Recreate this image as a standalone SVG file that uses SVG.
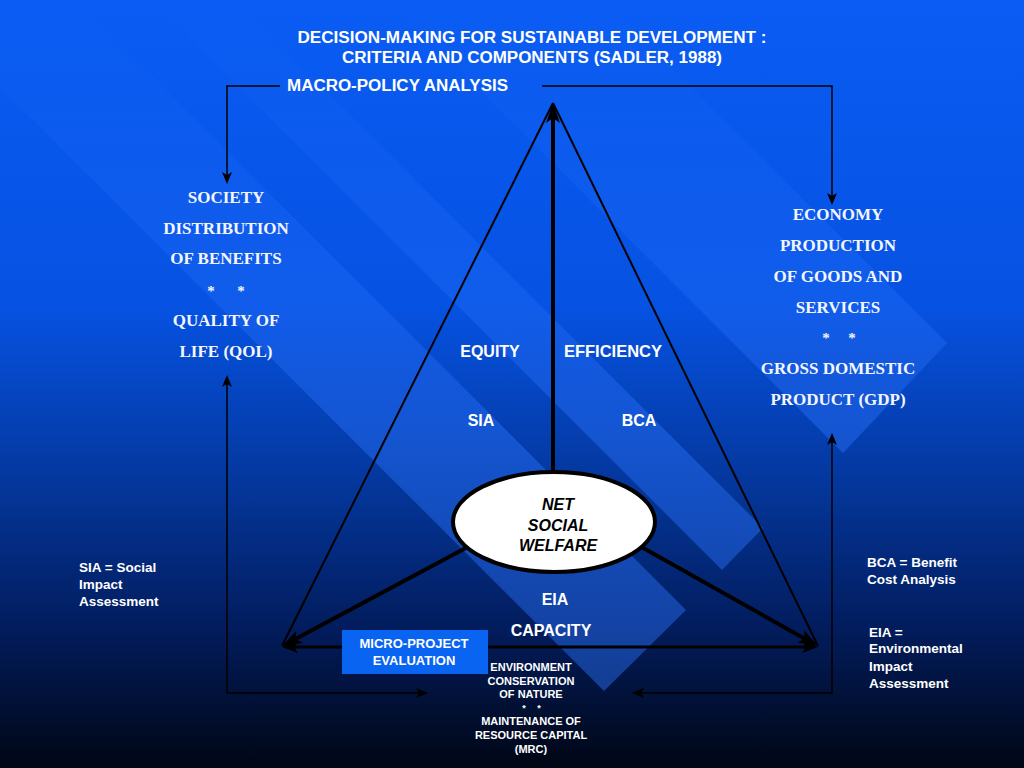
<svg xmlns="http://www.w3.org/2000/svg" width="1024" height="768" viewBox="0 0 1024 768">
<defs>
<linearGradient id="bg" x1="0" y1="0" x2="0" y2="1">
<stop offset="0" stop-color="#0a5cf4"/>
<stop offset="0.4" stop-color="#0652e2"/>
<stop offset="0.62" stop-color="#04389f"/>
<stop offset="0.82" stop-color="#021c5c"/>
<stop offset="1" stop-color="#000614"/>
</linearGradient>
<linearGradient id="bandFill" gradientUnits="userSpaceOnUse" x1="0" y1="0" x2="0" y2="768">
<stop offset="0" stop-color="#2a74ff" stop-opacity="0"/>
<stop offset="0.2" stop-color="#2a74ff" stop-opacity="0.15"/>
<stop offset="0.55" stop-color="#2a74ff" stop-opacity="0.42"/>
<stop offset="1" stop-color="#2a74ff" stop-opacity="0.45"/>
</linearGradient>
<marker id="arr" viewBox="0 0 12 10" refX="6" refY="5" markerWidth="12" markerHeight="10" markerUnits="userSpaceOnUse" orient="auto-start-reverse">
<path d="M0,0 L12,5 L0,10 L3,5 z" fill="#000"/>
</marker>
<marker id="arrBig" viewBox="0 0 20 14" refX="8" refY="7" markerWidth="20" markerHeight="14" markerUnits="userSpaceOnUse" orient="auto-start-reverse">
<path d="M0,0 L20,7 L0,14 L5,7 z" fill="#000"/>
</marker>
<marker id="arrMid" viewBox="0 0 16 12" refX="6" refY="6" markerWidth="16" markerHeight="12" markerUnits="userSpaceOnUse" orient="auto-start-reverse">
<path d="M0,0 L16,6 L0,12 L4,6 z" fill="#000"/>
</marker>
<style>
.band{fill:url(#bandFill)}
.sans{font-family:"Liberation Sans",Arial,sans-serif;font-weight:bold;fill:#fff}
.serif{font-family:"Liberation Serif","Times New Roman",serif;font-weight:bold;fill:#f4f6ff;font-size:17px;text-anchor:middle}
.ast{font-size:15px}
.t16{font-size:16px}
.mid{text-anchor:middle}
.leg{font-size:13.5px}
.nsw{font-family:"Liberation Sans",Arial,sans-serif;font-weight:bold;font-style:italic;font-size:16px;fill:#000;text-anchor:middle}
.thin{stroke:#000;stroke-width:1.5;fill:none}
.side{stroke:#000;stroke-width:2;fill:none}
.thick{stroke:#000;stroke-width:4;fill:none}
</style>
</defs>
<rect x="0" y="0" width="1024" height="768" fill="url(#bg)"/>
<g id="bands">
<polygon class="band" points="-200,-276 686,610 604,691 -200,-113"/>
<polygon class="band" points="420,-184 947,343 843,453 200,-190"/>
<polygon class="band" points="250,15 763,528 722,570 100,-52"/>
</g>
<g id="title" class="sans t16 mid">
<text x="532" y="43" textLength="469" lengthAdjust="spacingAndGlyphs">DECISION-MAKING FOR SUSTAINABLE DEVELOPMENT :</text>
<text x="532" y="63" textLength="380" lengthAdjust="spacingAndGlyphs">CRITERIA AND COMPONENTS (SADLER, 1988)</text>
</g>
<g id="connectors">
<path class="thin" d="M280,86 H227 V178" marker-end="url(#arr)"/>
<path class="thin" d="M542,86 H832 V199" marker-end="url(#arr)"/>
<path class="thin" d="M227,381 V693 H422" marker-start="url(#arr)" marker-end="url(#arr)"/>
<path class="thin" d="M832,439 V693 H638" marker-start="url(#arr)" marker-end="url(#arr)"/>
<line class="side" x1="553" y1="103" x2="282" y2="646"/>
<line class="side" x1="553" y1="103" x2="818" y2="646"/>
<line class="thick" x1="553" y1="490" x2="553" y2="115" marker-end="url(#arrBig)"/>
<line class="thick" x1="490" y1="535" x2="292.7" y2="640.5" marker-end="url(#arrBig)"/>
<line class="thick" x1="620" y1="535" x2="807.5" y2="640.2" marker-end="url(#arrBig)"/>
<line stroke="#000" stroke-width="3" x1="292" y1="647" x2="808" y2="647" marker-start="url(#arrMid)" marker-end="url(#arrMid)"/>
</g>
<g id="macro-policy">
<text class="sans t16" x="287" y="91" textLength="221" lengthAdjust="spacingAndGlyphs">MACRO-POLICY ANALYSIS</text>
</g>
<g id="society">
<text class="serif" x="226" y="203">SOCIETY</text>
<text class="serif" x="226" y="234">DISTRIBUTION</text>
<text class="serif" x="226" y="264">OF BENEFITS</text>
<text class="serif ast" x="211" y="296">*</text>
<text class="serif ast" x="241" y="296">*</text>
<text class="serif" x="226" y="326">QUALITY OF</text>
<text class="serif" x="226" y="357">LIFE (QOL)</text>
</g>
<g id="economy">
<text class="serif" x="838" y="220">ECONOMY</text>
<text class="serif" x="838" y="251">PRODUCTION</text>
<text class="serif" x="838" y="282">OF GOODS AND</text>
<text class="serif" x="838" y="313">SERVICES</text>
<text class="serif ast" x="826" y="343">*</text>
<text class="serif ast" x="852" y="343">*</text>
<text class="serif" x="838" y="374">GROSS DOMESTIC</text>
<text class="serif" x="838" y="405">PRODUCT (GDP)</text>
</g>
<g id="criteria" class="sans t16 mid">
<text x="490" y="357">EQUITY</text>
<text x="613" y="357" style="font-size:16.5px">EFFICIENCY</text>
<text x="481" y="426">SIA</text>
<text x="639" y="426">BCA</text>
<text x="555" y="605">EIA</text>
<text x="551" y="636">CAPACITY</text>
</g>
<g id="net-social-welfare">
<ellipse cx="554" cy="522" rx="101" ry="50" fill="#fff" stroke="#000" stroke-width="4"/>
<text class="nsw" x="558" y="510">NET</text>
<text class="nsw" x="558" y="531">SOCIAL</text>
<text class="nsw" x="558" y="551">WELFARE</text>
</g>
<g id="micro-project">
<rect x="342" y="630" width="146" height="44" fill="#0a64f2"/>
<text class="sans mid" x="414" y="648" style="font-size:13px">MICRO-PROJECT</text>
<text class="sans mid" x="414" y="665" style="font-size:13px">EVALUATION</text>
</g>
<g id="environment" class="sans mid" style="font-size:11px">
<text x="531" y="671">ENVIRONMENT</text>
<text x="531" y="685">CONSERVATION</text>
<text x="531" y="698">OF NATURE</text>
<text x="524" y="711" style="font-size:9px">*</text>
<text x="539" y="711" style="font-size:9px">*</text>
<text x="531" y="725">MAINTENANCE OF</text>
<text x="531" y="739">RESOURCE CAPITAL</text>
<text x="531" y="753">(MRC)</text>
</g>
<g id="legend-sia" class="sans leg">
<text x="79" y="572">SIA = Social</text>
<text x="79" y="589">Impact</text>
<text x="79" y="606">Assessment</text>
</g>
<g id="legend-bca" class="sans leg">
<text x="867" y="567">BCA = Benefit</text>
<text x="867" y="584">Cost Analysis</text>
</g>
<g id="legend-eia" class="sans leg">
<text x="869" y="637">EIA =</text>
<text x="869" y="653">Environmental</text>
<text x="869" y="671">Impact</text>
<text x="869" y="688">Assessment</text>
</g>
</svg>
